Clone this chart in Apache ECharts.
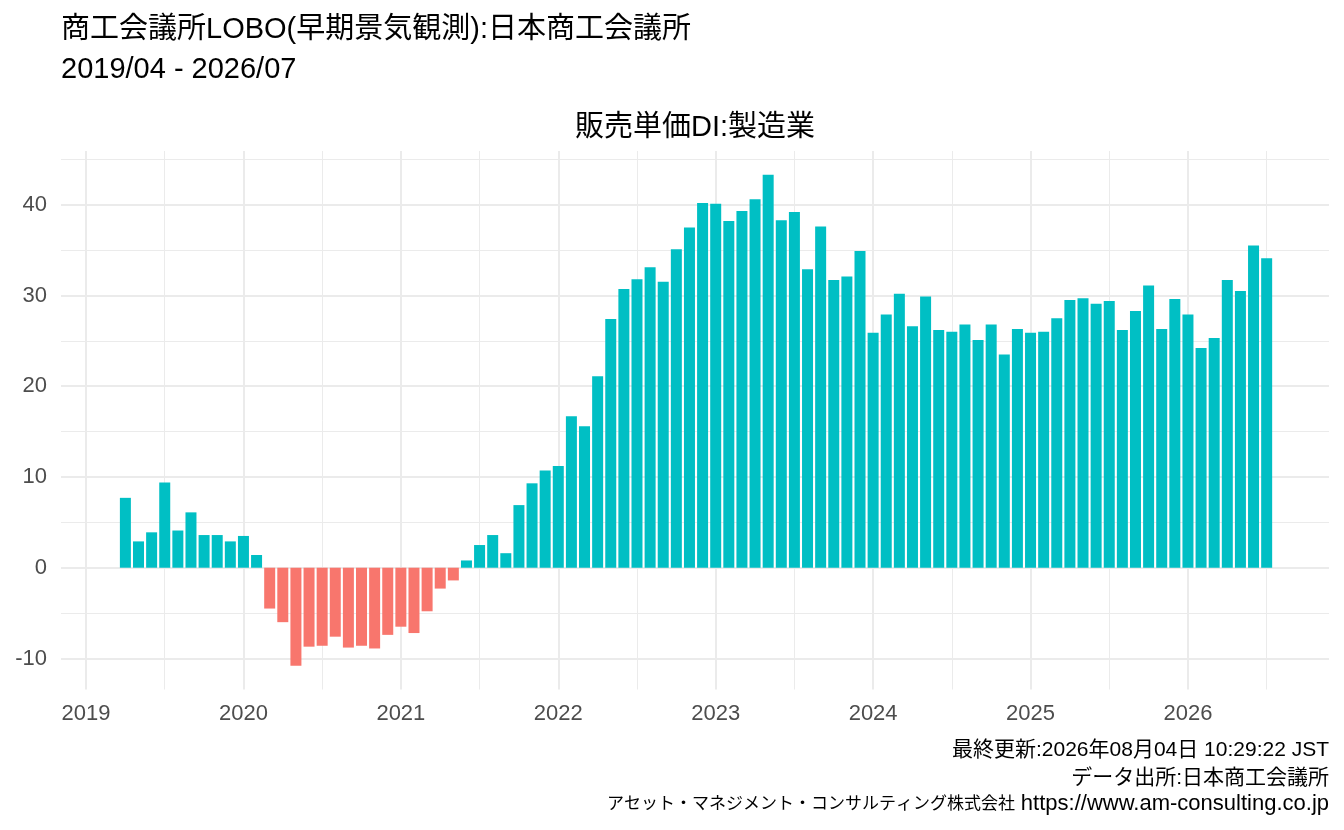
<!DOCTYPE html>
<html>
<head>
<meta charset="utf-8">
<title>販売単価DI:製造業</title>
<script src="https://cdn.jsdelivr.net/npm/echarts@6/dist/echarts.min.js"></script>
<style>
  html, body { margin: 0; padding: 0; background: #fff; }
  #chart { width: 1344px; height: 830px; }
</style>
</head>
<body>
<div id="chart"></div>
<script>
// 月次データ (2019/04 - 2026/07)
const months = [
  '2019/04', '2019/05', '2019/06', '2019/07', '2019/08', '2019/09', '2019/10', '2019/11', '2019/12',
  '2020/01', '2020/02', '2020/03', '2020/04', '2020/05', '2020/06', '2020/07', '2020/08', '2020/09', '2020/10', '2020/11', '2020/12',
  '2021/01', '2021/02', '2021/03', '2021/04', '2021/05', '2021/06', '2021/07', '2021/08', '2021/09', '2021/10', '2021/11', '2021/12',
  '2022/01', '2022/02', '2022/03', '2022/04', '2022/05', '2022/06', '2022/07', '2022/08', '2022/09', '2022/10', '2022/11', '2022/12',
  '2023/01', '2023/02', '2023/03', '2023/04', '2023/05', '2023/06', '2023/07', '2023/08', '2023/09', '2023/10', '2023/11', '2023/12',
  '2024/01', '2024/02', '2024/03', '2024/04', '2024/05', '2024/06', '2024/07', '2024/08', '2024/09', '2024/10', '2024/11', '2024/12',
  '2025/01', '2025/02', '2025/03', '2025/04', '2025/05', '2025/06', '2025/07', '2025/08', '2025/09', '2025/10', '2025/11', '2025/12',
  '2026/01', '2026/02', '2026/03', '2026/04', '2026/05', '2026/06', '2026/07'
];
const values = [
  7.7, 2.9, 3.9, 9.4, 4.1, 6.1, 3.6, 3.6, 2.9,
  3.5, 1.4, -4.5, -6.0, -10.8, -8.7, -8.6, -7.6, -8.8, -8.6, -8.9, -7.4,
  -6.5, -7.2, -4.8, -2.3, -1.4, 0.8, 2.5, 3.6, 1.6, 6.9, 9.3, 10.7,
  11.2, 16.7, 15.6, 21.1, 27.4, 30.7, 31.8, 33.1, 31.5, 35.1, 37.5, 40.2,
  40.1, 38.2, 39.3, 40.6, 43.3, 38.3, 39.2, 32.9, 37.6, 31.7, 32.1, 34.9,
  25.9, 27.9, 30.2, 26.6, 29.9, 26.2, 26.0, 26.8, 25.1, 26.8, 23.5, 26.3,
  25.9, 26.0, 27.5, 29.5, 29.7, 29.1, 29.4, 26.2, 28.3, 31.1, 26.3, 29.6,
  27.9, 24.2, 25.3, 31.7, 30.5, 35.5, 34.1
];
const xTicks = [2019, 2020, 2021, 2022, 2023, 2024, 2025, 2026];
const xMinorTicks = [2019.5, 2020.5, 2021.5, 2022.5, 2023.5, 2024.5, 2025.5, 2026.5];
const yTicks = [-10, 0, 10, 20, 30, 40];
const yMinorTicks = [-5, 5, 15, 25, 35, 45];

const FONT = '"Liberation Sans", Arial, "Noto Sans CJK JP", sans-serif';
const GRID = '#ebebeb';

// 'YYYY/MM' -> 年の小数 (月初)
const toYear = m => {
    const [y, mo] = m.split('/').map(Number);
    return y + (mo - 1) / 12;
};
const seriesData = months.map((m, i) => [toYear(m), values[i], m]);

const xBase = {
    type: 'value',
    min: 2018.841,
    max: 2026.896,
    axisLine: { show: false },
    axisTick: { show: false }
};
const yBase = {
    type: 'value',
    min: -13.42,
    max: 45.92,
    axisLine: { show: false },
    axisTick: { show: false }
};
const titleStyle = size => ({ fontSize: size, fontWeight: 'normal', color: '#000', fontFamily: FONT });

const chart = echarts.init(document.getElementById('chart'), null, { renderer: 'canvas' });
chart.setOption({
    backgroundColor: '#ffffff',
    animation: false,
    textStyle: { fontFamily: FONT },
    title: [
        { text: '商工会議所LOBO(早期景気観測):日本商工会議所', left: 61, top: 15, padding: 0, textStyle: titleStyle(29) },
        { text: '2019/04 - 2026/07', left: 61, top: 55, padding: 0, textStyle: titleStyle(29) },
        { text: '販売単価DI:製造業', left: 695, top: 113, padding: 0, textAlign: 'center', textStyle: titleStyle(29) },
        { text: '最終更新:2026年08月04日 10:29:22 JST', right: 15, top: 740, padding: 0, textStyle: titleStyle(21) },
        { text: 'データ出所:日本商工会議所', right: 15, top: 768, padding: 0, textStyle: titleStyle(21) },
        { text: '{k|アセット・マネジメント・コンサルティング株式会社} {u|https://www.am-consulting.co.jp}', right: 15, top: 793, padding: 0,
          textStyle: {
              ...titleStyle(21),
              rich: {
                  k: { fontSize: 17, color: '#000', fontFamily: FONT },
                  u: { fontSize: 22, color: '#000', fontFamily: FONT }
              }
          } }
    ],
    grid: { left: 61, right: 15, top: 151, bottom: 140.5, containLabel: false },
    xAxis: [
        { ...xBase,
          axisTick: { show: false, customValues: xTicks },
          axisLabel: { customValues: xTicks, formatter: v => String(v), fontSize: 22, color: '#4d4d4d', margin: 13, fontFamily: FONT },
          splitLine: { show: true, lineStyle: { color: GRID, width: 2 } } },
        { ...xBase, position: 'bottom',
          axisTick: { show: false, customValues: xMinorTicks },
          axisLabel: { show: false },
          splitLine: { show: true, lineStyle: { color: GRID, width: 1 } } }
    ],
    yAxis: [
        { ...yBase,
          axisTick: { show: false, customValues: yTicks },
          axisLabel: { customValues: yTicks, fontSize: 22, color: '#4d4d4d', margin: 14, fontFamily: FONT },
          splitLine: { show: true, lineStyle: { color: GRID, width: 2 } } },
        { ...yBase, position: 'left',
          axisTick: { show: false, customValues: yMinorTicks },
          axisLabel: { show: false },
          splitLine: { show: true, lineStyle: { color: GRID, width: 1 } } }
    ],
    series: [{
        type: 'bar',
        xAxisIndex: 0,
        yAxisIndex: 0,
        data: seriesData,
        barWidth: 11,
        itemStyle: {
            color: p => (p.value[1] >= 0 ? '#00BFC4' : '#F8766D')
        }
    }]
});
</script>
</body>
</html>
